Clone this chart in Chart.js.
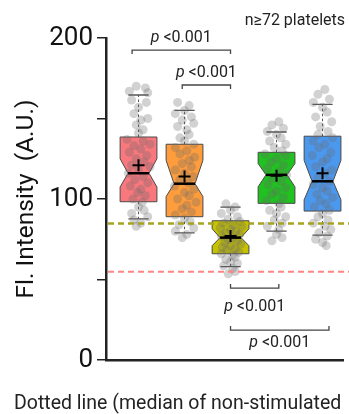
<!DOCTYPE html>
<html>
<head>
<meta charset="utf-8">
<script src="https://cdn.jsdelivr.net/npm/chart.js@4/dist/chart.umd.min.js"></script>
<style>
  html, body { margin: 0; padding: 0; background: #fff; }
  #wrap { width: 349px; height: 414px; }
</style>
</head>
<body>
<div id="wrap"><canvas id="chart"></canvas></div>
<script>
// box statistics (A.U.)
var boxColors   = ['#f8787d', '#ff9c3c', '#c6c200', '#1fc21f', '#4b98ef'];
var q1          = [98.3, 89, 66, 97.3, 92.5];
var q3          = [138.5, 134, 86.5, 129, 139];
var medians     = [116, 109.5, 76, 115, 111];
var means       = [121, 114, 77, 114.5, 116];
var notchLow    = [107.5, 101.5, 71, 107.6, 99.5];
var notchHigh   = [125, 124, 81.5, 122, 124];
var whiskerLow  = [87.6, 79, 58, 80, 77.6];
var whiskerHigh = [164.6, 155, 95, 141.6, 158.8];

// jittered platelets: [offset from group centre, value]
var redPts = [[-0.05,170],[0.15,169],[-0.2,167],[0.2,166],[-0.15,161.5],[0.17,160],[0.0,157],[-0.1,153],[0.2,150],[0.05,149],[-0.05,146],[0.1,143],[0.0,141],
  [-0.25,137],[0.1,136],[0.25,134],[-0.1,133],[0.05,131],[-0.2,129],[0.18,127],[-0.05,125],[0.12,123],[-0.15,121],[0.25,120],[0.0,118],[-0.22,116],[0.1,114],[-0.08,112],[0.2,110],[-0.18,108],[0.05,106],[-0.02,104],[0.15,102],[-0.12,100],[0.08,98],
  [0.0,95],[0.12,93],[-0.15,91],[0.2,89],[-0.1,87],[0.05,85],[-0.05,83]];
var orangePts = [[-0.15,160],[0.1,158],[0,155],[-0.2,153],[0.15,151],[-0.05,149],[0.2,147],[-0.15,145],[0.05,143],[0.1,140],[-0.1,138],[0.0,136],
  [0.2,134],[-0.2,132],[0.05,130],[-0.1,128],[0.22,126],[0.1,124],[-0.05,122],[0.15,120],[-0.2,118],[0.0,116],[0.18,114],[-0.1,112],[0.08,110],[-0.22,108],[0.2,106],[0.0,104],[0.1,102],[-0.15,100],[0.25,98],[0.05,96],[-0.05,94],[0.15,92],[-0.2,90],
  [0.0,88],[0.12,86],[-0.12,84],[0.2,82],[-0.2,80],[0.05,78],[-0.05,76]];
var olivePts = [[-0.1,97],[0.1,95],[0.0,93],[-0.2,91],[0.15,89],[-0.05,87.5],[0.2,86],[-0.15,85],[0.05,84],[0.25,83],[-0.22,82],[0.0,81],[0.12,80],[-0.1,79],[0.2,78],[-0.2,77],[0.05,76],[-0.05,75],[0.15,74],[-0.12,73],[0.22,72],[0.0,71],[-0.18,70],[0.1,69],[-0.08,68],[0.18,67],[-0.2,66],[0.05,65],[0.1,64],[-0.1,62.5],[0.0,61],[0.15,60],[-0.15,58.5],[0.05,57],[0.1,55],[-0.05,53.5]];
var greenPts = [[0.05,148],[-0.1,146],[0.15,144],[-0.2,142],[0.0,140],[0.1,138],[-0.15,136],[0.2,134],[-0.05,132],[0.12,130],
  [-0.25,128],[0.2,127],[0.0,125],[-0.12,123],[0.15,121],[-0.2,119],[0.05,117],[0.22,115],[-0.08,113],[0.1,111],[-0.18,109],[0.2,107],[0.0,105],[-0.1,103],[0.15,101],[-0.22,99],[0.05,97],
  [0.1,95],[-0.15,93],[0.0,91],[0.2,89],[-0.05,87],[0.12,85],[-0.2,83],[0.05,81],[0.0,78],[0.12,76],[-0.1,74]];
var bluePts = [[0.05,168],[-0.1,165],[0.15,162],[-0.2,160],[0.0,157],[0.1,154],[-0.15,151],[0.2,148],[-0.05,145],[0.12,142],[-0.1,140],
  [0.22,138],[-0.2,136],[0.05,134],[-0.08,132],[0.18,129],[-0.22,127],[0.1,125],[0.0,123],[-0.15,120],[0.2,118],[0.05,116],[-0.1,113],[0.15,111],[-0.2,109],[0.0,107],[0.1,105],[-0.12,103],[0.22,101],[-0.05,99],[0.08,97],[-0.18,95],[0.15,93],
  [0.0,91],[-0.1,89],[0.12,87],[-0.2,85],[0.05,83],[0.18,81],[-0.08,79],[0.1,77],[-0.15,75],[0.0,73],[0.08,71]];
var groupPts = [redPts, orangePts, olivePts, greenPts, bluePts];

// dotted reference lines
var refValues = [84.8, 54.8];
var refColors = ['#a6a41c', '#ff8585'];

// significance brackets: from group, to group, bracket value, text value
var brFrom  = [0.86, 1.95, 3.0, 3.0];
var brTo    = [3.0, 3.0, 4.05, 5.14];
var brY     = [192.5, 170.8, 44.7, 18.6];
var brTextY = [197.3, 175.6, 30.4, 8.2];
var brLabel = '<0.001';

var yTicks = [0, 50, 100, 150, 200];

var points = [];
groupPts.forEach(function(list, i) {
  list.forEach(function(p) { points.push({x: i + 1 + p[0], y: p[1]}); });
});

var boxHalf = 0.4;
var notchRatio = 0.57;

var boxPlugin = {
  id: 'boxes',
  beforeDatasetsDraw: function(chart) {
    var ctx = chart.ctx, x = chart.scales.x, y = chart.scales.y;
    ctx.save();
    for (var i = 0; i < q1.length; i++) {
      var cx = x.getPixelForValue(i + 1);
      var half = x.getPixelForValue(i + 1 + boxHalf) - cx;
      var nh = half * notchRatio;
      var capHalf = x.getPixelForValue(i + 1 + 0.22) - cx;
      // whiskers
      ctx.strokeStyle = '#555';
      ctx.lineWidth = 1;
      ctx.setLineDash([2.5, 2.5]);
      ctx.beginPath();
      ctx.moveTo(cx, y.getPixelForValue(q3[i]));
      ctx.lineTo(cx, y.getPixelForValue(whiskerHigh[i]));
      ctx.moveTo(cx, y.getPixelForValue(q1[i]));
      ctx.lineTo(cx, y.getPixelForValue(whiskerLow[i]));
      ctx.stroke();
      ctx.setLineDash([]);
      ctx.lineWidth = 1.3;
      ctx.beginPath();
      ctx.moveTo(cx - capHalf, y.getPixelForValue(whiskerHigh[i]));
      ctx.lineTo(cx + capHalf, y.getPixelForValue(whiskerHigh[i]));
      ctx.moveTo(cx - capHalf, y.getPixelForValue(whiskerLow[i]));
      ctx.lineTo(cx + capHalf, y.getPixelForValue(whiskerLow[i]));
      ctx.stroke();
      // notched box
      var yq3 = y.getPixelForValue(q3[i]), yq1 = y.getPixelForValue(q1[i]);
      var ynh = y.getPixelForValue(notchHigh[i]), ynl = y.getPixelForValue(notchLow[i]);
      var ym = y.getPixelForValue(medians[i]);
      ctx.beginPath();
      ctx.moveTo(cx - half, yq3);
      ctx.lineTo(cx + half, yq3);
      ctx.lineTo(cx + half, ynh);
      ctx.lineTo(cx + nh, ym);
      ctx.lineTo(cx + half, ynl);
      ctx.lineTo(cx + half, yq1);
      ctx.lineTo(cx - half, yq1);
      ctx.lineTo(cx - half, ynl);
      ctx.lineTo(cx - nh, ym);
      ctx.lineTo(cx - half, ynh);
      ctx.closePath();
      ctx.fillStyle = boxColors[i];
      ctx.fill();
      ctx.strokeStyle = '#4a4a4a';
      ctx.lineWidth = 1;
      ctx.stroke();
    }
    ctx.restore();
  },
  afterDatasetsDraw: function(chart) {
    var ctx = chart.ctx, x = chart.scales.x, y = chart.scales.y, area = chart.chartArea;
    ctx.save();
    for (var i = 0; i < q1.length; i++) {
      var cx = x.getPixelForValue(i + 1);
      var nh = (x.getPixelForValue(i + 1 + boxHalf) - cx) * notchRatio;
      var ym = y.getPixelForValue(medians[i]);
      ctx.strokeStyle = '#000';
      ctx.lineWidth = 2.5;
      ctx.beginPath();
      ctx.moveTo(cx - nh, ym);
      ctx.lineTo(cx + nh, ym);
      ctx.stroke();
      var yMean = y.getPixelForValue(means[i]);
      ctx.lineWidth = 2;
      ctx.beginPath();
      ctx.moveTo(cx - 6, yMean);
      ctx.lineTo(cx + 6, yMean);
      ctx.moveTo(cx, yMean - 6);
      ctx.lineTo(cx, yMean + 6);
      ctx.stroke();
    }
    refValues.forEach(function(v, k) {
      var py = y.getPixelForValue(v);
      ctx.strokeStyle = refColors[k];
      ctx.lineWidth = k === 0 ? 2.5 : 2;
      ctx.setLineDash([6, 4]);
      ctx.beginPath();
      ctx.moveTo(area.left + 2, py);
      ctx.lineTo(chart.width, py);
      ctx.stroke();
    });
    ctx.restore();
  },
  afterDraw: function(chart) {
    var ctx = chart.ctx, x = chart.scales.x, y = chart.scales.y;
    ctx.save();
    for (var k = 0; k < brFrom.length; k++) {
      var x1 = x.getPixelForValue(brFrom[k]), x2 = x.getPixelForValue(brTo[k]);
      var by = y.getPixelForValue(brY[k]);
      var dir = brY[k] > 100 ? 4 : -4;
      ctx.strokeStyle = '#444';
      ctx.lineWidth = 1.3;
      ctx.beginPath();
      ctx.moveTo(x1, by + dir);
      ctx.lineTo(x1, by);
      ctx.lineTo(x2, by);
      ctx.lineTo(x2, by + dir);
      ctx.stroke();
      // "p <0.001" with italic p
      var tx = (x1 + x2) / 2, ty = y.getPixelForValue(brTextY[k]);
      ctx.fillStyle = '#222';
      ctx.textBaseline = 'alphabetic';
      ctx.font = 'italic 16px Roboto';
      var wp = ctx.measureText('p ').width;
      ctx.font = '16px Roboto';
      var wr = ctx.measureText(brLabel).width;
      var sx = tx - (wp + wr) / 2;
      ctx.textAlign = 'left';
      ctx.font = 'italic 16px Roboto';
      ctx.fillText('p', sx, ty);
      ctx.font = '16px Roboto';
      ctx.fillText(brLabel, sx + wp, ty);
    }
    ctx.fillStyle = '#222';
    ctx.font = '16px Roboto';
    ctx.textAlign = 'right';
    ctx.fillText('n\u226572 platelets', 345, 25);
    ctx.textAlign = 'left';
    ctx.font = '19.5px Roboto';
    ctx.fillText('Dotted line (median of non-stimulated', 14, 409);
    ctx.restore();
  }
};

new Chart(document.getElementById('chart'), {
  type: 'scatter',
  data: {
    datasets: [{
      data: points,
      pointRadius: 4.5,
      pointHoverRadius: 4.5,
      backgroundColor: 'rgba(105,105,105,0.3)',
      borderWidth: 0
    }]
  },
  options: {
    responsive: true,
    maintainAspectRatio: false,
    animation: false,
    layout: { padding: { top: 38, right: 6, bottom: 54, left: 0 } },
    plugins: { legend: { display: false }, tooltip: { enabled: false } },
    scales: {
      x: {
        type: 'linear',
        min: 0.293,
        max: 5.445,
        ticks: { display: false },
        grid: { drawOnChartArea: false, drawTicks: false },
        border: { display: true, color: '#222', width: 2.5 },
        afterFit: function(s) { s.height = 0; }
      },
      y: {
        min: 0,
        max: 200,
        afterBuildTicks: function(s) { s.ticks = yTicks.map(function(v) { return {value: v}; }); },
        ticks: {
          color: '#111',
          font: { family: 'Roboto', size: 26 },
          padding: 4,
          callback: function(v) { return v % 100 === 0 ? v : ''; }
        },
        grid: { drawOnChartArea: false, drawTicks: true, tickLength: 9, color: '#222', lineWidth: 1.5 },
        border: { display: true, color: '#222', width: 2.5 },
        title: {
          display: true,
          text: 'Fl. Intensity  (A.U.)',
          color: '#111',
          font: { family: 'Roboto', size: 24.5 },
          padding: { top: 12, bottom: 0 }
        },
        afterFit: function(s) { s.width = 106; }
      }
    }
  },
  plugins: [boxPlugin]
});
</script>
</body>
</html>
